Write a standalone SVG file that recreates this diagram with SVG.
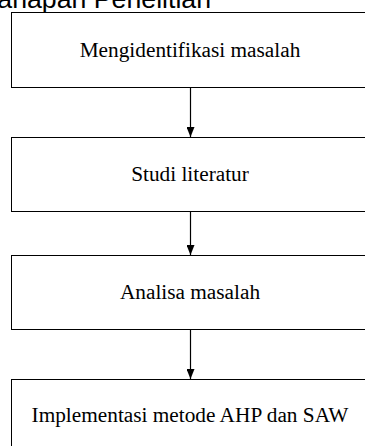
<svg xmlns="http://www.w3.org/2000/svg" width="365" height="446" viewBox="0 0 365 446">
<style>
.box{fill:#fff;stroke:#000;stroke-width:1}
.lbl{font-family:"Liberation Serif","Times New Roman",serif;font-size:21.3px;fill:#000;text-anchor:middle}
.title{font-family:"Liberation Sans",Arial,sans-serif;font-size:26.7px;fill:#000}
.conn{stroke:#000;stroke-width:1.2;fill:none}
</style>
<defs>
<marker id="ah" viewBox="0 0 10 8" refX="10" refY="4" markerWidth="10" markerHeight="8" markerUnits="userSpaceOnUse" orient="auto">
<path d="M0,0 L10,4 L0,8 Z" fill="#000"/>
</marker>
</defs>
<rect width="365" height="446" fill="#fff"/>
<text class="title" x="-16" y="7.5">Tahapan Penelitian</text>
<g id="n1"><rect class="box" x="11.5" y="12.5" width="380" height="75"/><text class="lbl" x="190" y="56.5">Mengidentifikasi masalah</text></g>
<g id="n2"><rect class="box" x="11.5" y="137.5" width="380" height="74"/><text class="lbl" x="190" y="181">Studi literatur</text></g>
<g id="n3"><rect class="box" x="11.5" y="255.5" width="380" height="74"/><text class="lbl" x="190" y="299">Analisa masalah</text></g>
<g id="n4"><rect class="box" x="11.5" y="379.5" width="380" height="80"/><text class="lbl" x="190" y="422">Implementasi metode AHP dan SAW</text></g>
<g id="connectors">
<line class="conn" x1="190.5" y1="88" x2="190.5" y2="137" marker-end="url(#ah)"/>
<line class="conn" x1="190.5" y1="212" x2="190.5" y2="255" marker-end="url(#ah)"/>
<line class="conn" x1="190.5" y1="330" x2="190.5" y2="379" marker-end="url(#ah)"/>
</g>
</svg>
